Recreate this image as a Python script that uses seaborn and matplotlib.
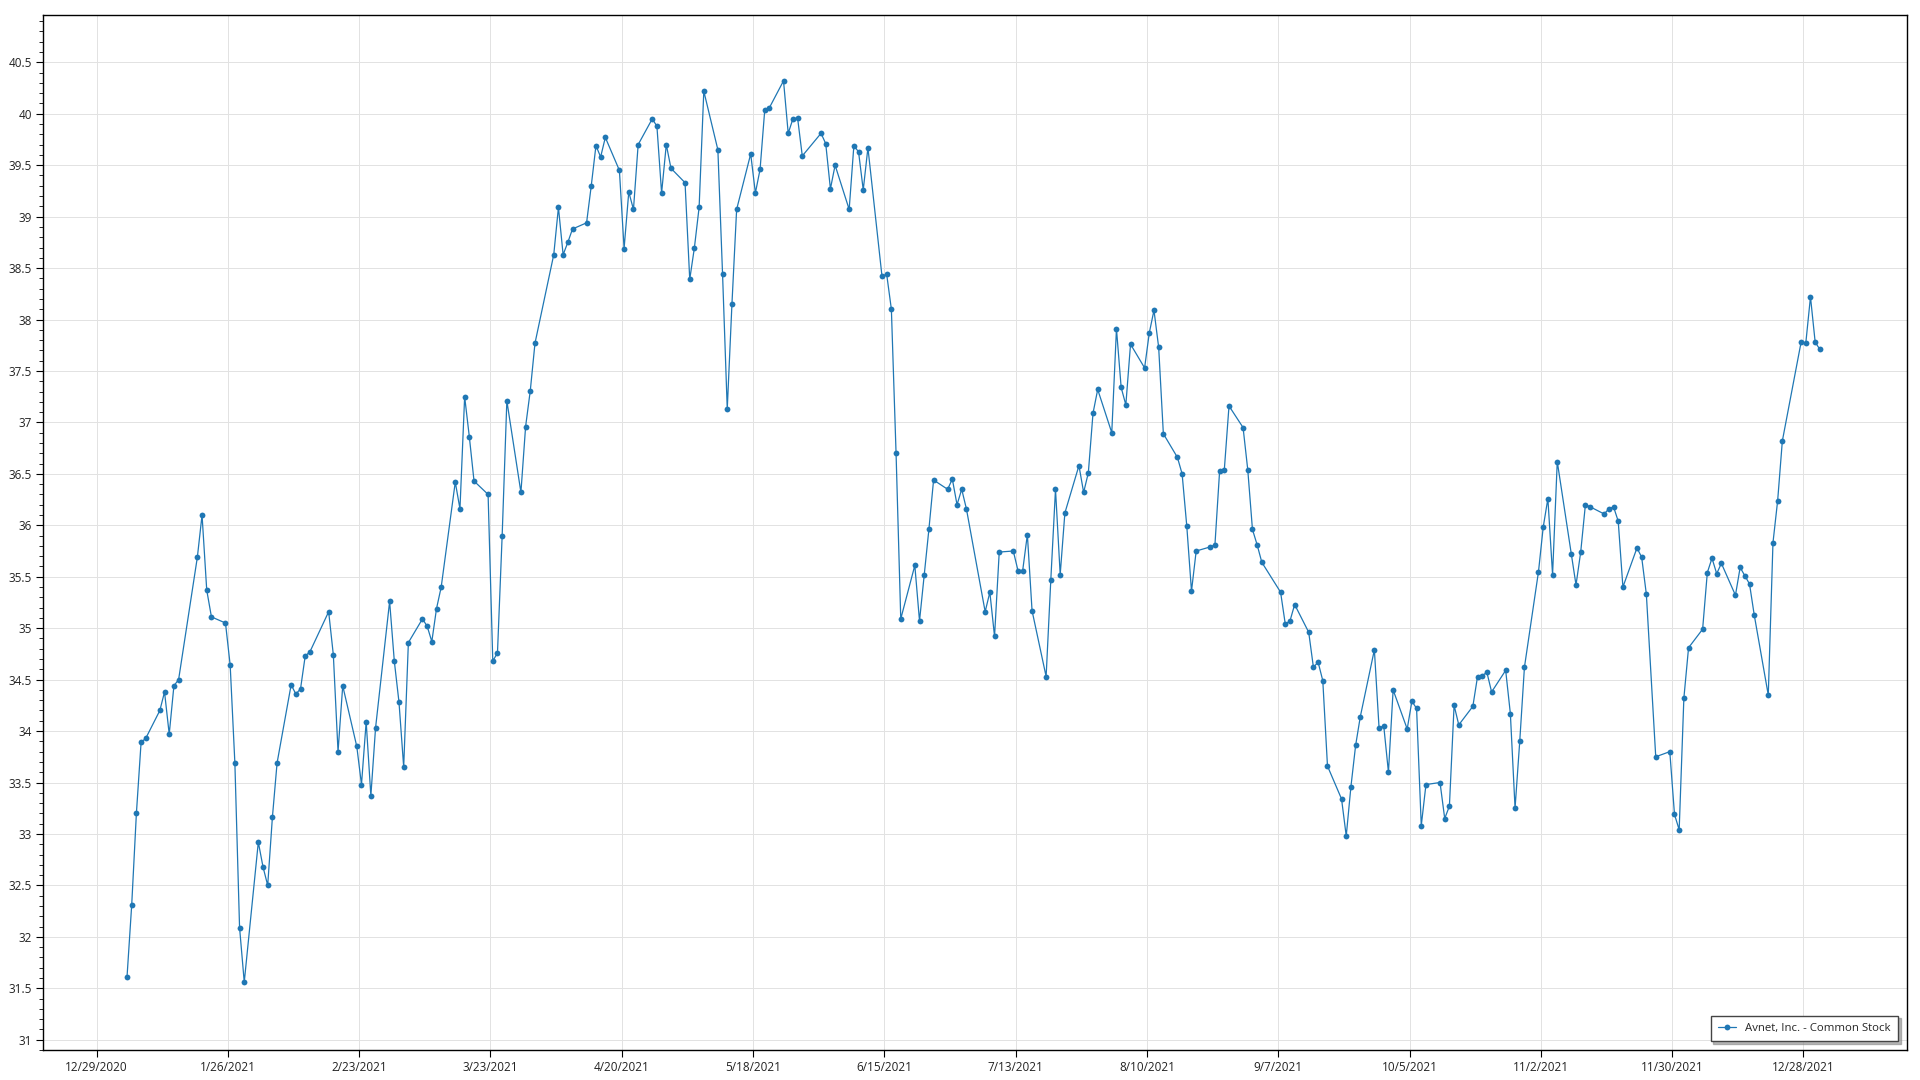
import pandas as pd
import numpy as np
import matplotlib
matplotlib.use('Agg')
import matplotlib.pyplot as plt
import matplotlib.ticker as mticker
import seaborn as sns

#DATA: daily close
####################################################################################################

jan = [31.61, 32.31, 33.20, 33.89, 33.93, 34.20, 34.38, 33.97, 34.44, 34.50,
       35.69, 36.10, 35.37, 35.11, 35.05, 34.64, 33.69, 32.09, 31.56]
feb = [32.92, 32.68, 32.50, 33.16, 33.69, 34.45, 34.36, 34.41, 34.73, 34.77,
       35.16, 34.74, 33.80, 34.44, 33.85, 33.48, 34.09, 33.37, 34.03]
mar = [35.26, 34.68, 34.28, 33.65, 34.86, 35.09, 35.02, 34.87, 35.19, 35.40,
       36.42, 36.16, 37.25, 36.86, 36.43, 36.30, 34.68, 34.76, 35.90, 37.21,
       36.32, 36.96, 37.31]
apr = [37.77, 38.63, 39.09, 38.63, 38.75, 38.88, 38.94, 39.30, 39.69, 39.58,
       39.77, 39.45, 38.69, 39.24, 39.07, 39.70, 39.95, 39.88, 39.23, 39.70, 39.47]
may = [39.33, 38.39, 38.70, 39.09, 40.22, 39.65, 38.44, 37.13, 38.15, 39.07,
       39.61, 39.23, 39.46, 40.04, 40.06, 40.32, 39.81, 39.95, 39.96, 39.59]
jun = [39.81, 39.71, 39.27, 39.50, 39.07, 39.69, 39.63, 39.26, 39.67, 38.42,
       38.44, 38.10, 36.70, 35.09, 35.61, 35.07, 35.52, 35.96, 36.44, 36.35,
       36.45, 36.20]
jul = [36.35, 36.16, 35.16, 35.35, 34.92, 35.74, 35.75, 35.56, 35.56, 35.91,
       35.17, 34.53, 35.47, 36.35, 35.52, 36.12, 36.58, 36.32, 36.51, 37.09, 37.32]
aug = [36.90, 37.91, 37.34, 37.17, 37.76, 37.53, 37.87, 38.09, 37.73, 36.89,
       36.66, 36.50, 35.99, 35.36, 35.75, 35.79, 35.81, 36.53, 36.54, 37.16,
       36.95, 36.54]
sep = [35.96, 35.81, 35.64, 35.35, 35.04, 35.07, 35.23, 34.96, 34.62, 34.67,
       34.49, 33.66, 33.34, 32.98, 33.46, 33.86, 34.14, 34.79, 34.03, 34.05, 33.60]
oct_ = [34.40, 34.02, 34.29, 34.22, 33.08, 33.48, 33.50, 33.15, 33.27, 34.25,
        34.06, 34.24, 34.53, 34.54, 34.57, 34.38, 34.59, 34.17, 33.25, 33.90, 34.62]
nov = [35.55, 35.98, 36.26, 35.52, 36.62, 35.72, 35.42, 35.74, 36.20, 36.18,
       36.11, 36.16, 36.18, 36.04, 35.40, 35.78, 35.69, 35.33, 33.75, 33.80, 33.19]
dec = [33.04, 34.32, 34.81, 34.99, 35.54, 35.68, 35.53, 35.63, 35.32, 35.59,
       35.51, 35.43, 35.13, 34.35, 35.83, 36.24, 36.82, 37.78, 37.77, 38.22,
       37.78, 37.71]

#Market holidays (no trading that day)
holidays_2021 = ['2021-01-01', '2021-01-18', '2021-02-15', '2021-04-02', '2021-05-31',
                 '2021-07-05', '2021-09-06', '2021-11-25', '2021-12-24']

tick_labels = ['12/29/2020', '1/26/2021', '2/23/2021', '3/23/2021', '4/20/2021', '5/18/2021',
               '6/15/2021', '7/13/2021', '8/10/2021', '9/7/2021', '10/5/2021', '11/2/2021',
               '11/30/2021', '12/28/2021']

series_name = 'Avnet, Inc. - Common Stock'

#BUILD FRAME
####################################################################################################

prices = jan + feb + mar + apr + may + jun + jul + aug + sep + oct_ + nov + dec
dates = pd.bdate_range('2021-01-04', '2021-12-31', freq='C', holidays=holidays_2021)
df_stock = pd.DataFrame({'Date': dates, 'Close': prices})

#PLOT
####################################################################################################

sns.set_theme(style='whitegrid')
plt.rcParams['font.family'] = ['Open Sans', 'DejaVu Sans']

fig = plt.figure(figsize=(19.2, 10.8), dpi=100)
ax = fig.add_axes([43 / 1920, 1 - 1050 / 1080, (1907 - 43) / 1920, (1050 - 15) / 1080])

sns.lineplot(data=df_stock, x='Date', y='Close', ax=ax, color='#1f77b4', linewidth=0.9,
             marker='o', markersize=4.2, markeredgewidth=0, label=series_name)

#the source chart puts its date gridlines half a day before the points
half_day = pd.Timedelta(hours=12)
tick_pos = pd.to_datetime(tick_labels, format='%m/%d/%Y') - half_day
ax.set_xticks(tick_pos)
ax.set_xticklabels(tick_labels)
ax.set_xlim(pd.Timestamp('2020-12-17 14:00') - half_day, pd.Timestamp('2022-01-19 02:00') - half_day)

ax.set_ylim(30.9, 40.96)
ax.yaxis.set_major_locator(mticker.MultipleLocator(0.5))
ax.yaxis.set_minor_locator(mticker.MultipleLocator(0.1))
ax.yaxis.set_major_formatter(mticker.FuncFormatter(lambda v, p: f'{v:g}'))

ax.set_xlabel('')
ax.set_ylabel('')
ax.set_facecolor('white')
ax.grid(True, which='major', color='#e2e2e2', linewidth=0.7)
ax.grid(False, which='minor')
for sp in ax.spines.values():
    sp.set_color('black')
    sp.set_linewidth(1.0)

ax.tick_params(axis='both', which='major', direction='out', length=5, width=0.8,
               color='black', labelsize=8.5, labelcolor='#222222', pad=3,
               bottom=True, left=True)
ax.tick_params(axis='y', which='minor', direction='out', length=3, width=0.6,
               color='black', left=True)

leg = ax.legend(loc='lower right', frameon=True, fancybox=False, edgecolor='#444444',
                framealpha=1, fontsize=8.2, handlelength=1.6, borderaxespad=0.75,
                borderpad=0.65, shadow={'ox': 2, 'oy': -2, 'color': '#888888', 'alpha': 0.6})
leg.get_frame().set_linewidth(1.0)

plt.savefig('out.png', dpi=100)
